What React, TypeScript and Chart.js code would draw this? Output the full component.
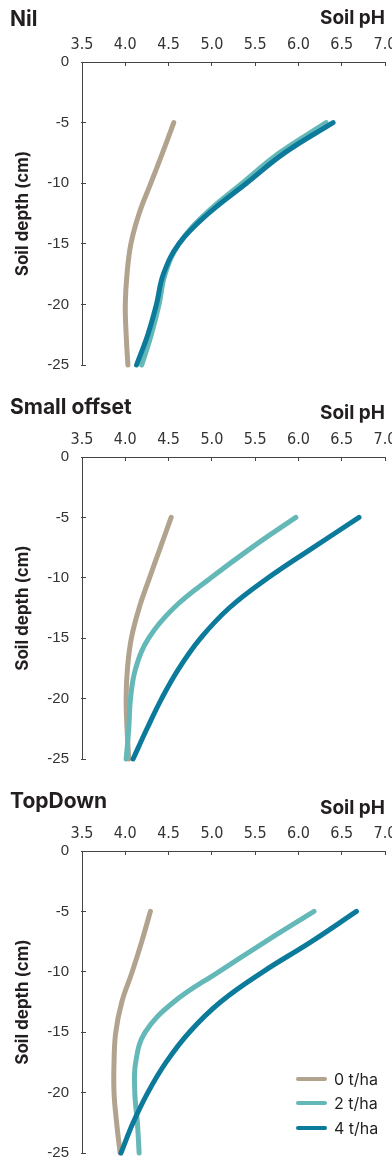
import React, { useEffect, useRef } from "react";
import { Chart, registerables } from "chart.js";

Chart.register(...registerables);

// ---------- data ----------
const depths = [-5, -7.5, -10, -12.5, -15, -17.5, -20, -22.5, -25];
const seriesLabels = ["0 t/ha", "2 t/ha", "4 t/ha"];
const panelTitles = ["Nil", "Small offset", "TopDown"];
const xTickValues = [3.5, 4.0, 4.5, 5.0, 5.5, 6.0, 6.5, 7.0];
const yTickValues = [0, -5, -10, -15, -20, -25];

const nil0 = [4.56, 4.43, 4.295, 4.16, 4.065, 4.02, 4.0, 4.01, 4.03];
const nil2 = [6.32, 5.78, 5.35, 4.93, 4.62, 4.46, 4.39, 4.3, 4.19];
const nil4 = [6.4, 5.84, 5.4, 4.96, 4.62, 4.44, 4.36, 4.26, 4.13];

const small0 = [4.53, 4.405, 4.28, 4.16, 4.07, 4.025, 4.01, 4.02, 4.04];
const small2 = [5.97, 5.46, 4.99, 4.56, 4.27, 4.12, 4.06, 4.04, 4.01];
const small4 = [6.7, 6.17, 5.65, 5.2, 4.87, 4.62, 4.42, 4.25, 4.09];

const top0 = [4.29, 4.19, 4.08, 3.96, 3.89, 3.87, 3.87, 3.9, 3.94];
const top2 = [6.18, 5.62, 5.08, 4.56, 4.23, 4.12, 4.11, 4.14, 4.16];
const top4 = [6.67, 6.15, 5.59, 5.1, 4.74, 4.47, 4.26, 4.09, 3.95];

// ---------- styles ----------
const seriesColors = ["#b1a38d", "#64b9b8", "#0c7a9b"];
const axisColor = "#444444";
const textColor = "#231f20";
const boldFont = "Inter, 'Open Sans', sans-serif";

const panels = [
  { title: panelTitles[0], series: [nil0, nil2, nil4], height: 390, top: 62, bottom: 365, titleY: 20, xTitlePad: 7, legend: false },
  { title: panelTitles[1], series: [small0, small2, small4], height: 390, top: 67, bottom: 369, titleY: 18, xTitlePad: 12, legend: false },
  { title: panelTitles[2], series: [top0, top2, top4], height: 379, top: 71, bottom: 373, titleY: 22, xTitlePad: 17, legend: true },
];

const overlayPlugin = {
  id: "overlay",
  afterDraw(chart: any, _args: any, opts: any) {
    const { ctx, chartArea } = chart;
    const xs = chart.scales.x;
    const ys = chart.scales.y;
    ctx.save();
    // inward tick marks
    ctx.strokeStyle = axisColor;
    ctx.lineWidth = 1;
    ctx.beginPath();
    xTickValues.forEach((v) => {
      const px = Math.round(xs.getPixelForValue(v) - 0.5) + 0.5;
      ctx.moveTo(px, chartArea.top);
      ctx.lineTo(px, chartArea.top + 4);
    });
    yTickValues.forEach((v) => {
      const py = Math.round(ys.getPixelForValue(v) - 0.5) + 0.5;
      ctx.moveTo(chartArea.left - 1, py);
      ctx.lineTo(chartArea.left + 4, py);
    });
    ctx.stroke();
    // panel title
    ctx.fillStyle = textColor;
    ctx.font = `700 21px ${boldFont}`;
    ctx.textBaseline = "middle";
    ctx.textAlign = "left";
    ctx.fillText(opts.title, 10, opts.titleY);
    // legend
    if (opts.legend) {
      const rows = [-74, -50, -25];
      chart.data.datasets.forEach((ds: any, i: number) => {
        const y = chartArea.bottom + rows[i];
        ctx.strokeStyle = ds.borderColor;
        ctx.lineWidth = 4;
        ctx.lineCap = "round";
        ctx.beginPath();
        ctx.moveTo(chartArea.right - 87, y);
        ctx.lineTo(chartArea.right - 60, y);
        ctx.stroke();
        ctx.fillStyle = textColor;
        ctx.font = `400 16px ${boldFont}`;
        ctx.textBaseline = "middle";
        ctx.fillText(ds.label, chartArea.right - 51, y + 1);
      });
    }
    ctx.restore();
  },
};

function Panel({ cfg }: { cfg: any }) {
  const ref = useRef<HTMLCanvasElement>(null);
  useEffect(() => {
    if (!ref.current) return;
    const chart = new Chart(ref.current, {
      type: "line",
      data: {
        datasets: cfg.series.map((vals: number[], i: number) => ({
          label: seriesLabels[i],
          data: vals.map((v, j) => ({ x: v, y: depths[j] })),
          borderColor: seriesColors[i],
          backgroundColor: seriesColors[i],
          borderWidth: 5,
          borderCapStyle: "round",
          borderJoinStyle: "round",
          pointRadius: 0,
          pointHoverRadius: 0,
          tension: 0.4,
          fill: false,
          clip: false,
          order: 3 - i,
        })),
      },
      options: {
        indexAxis: "y",
        responsive: false,
        animation: false,
        events: [],
        layout: { padding: { left: 0, right: 7, top: 0, bottom: cfg.height - cfg.bottom } },
        plugins: {
          legend: { display: false },
          tooltip: { enabled: false },
          overlay: { title: cfg.title, titleY: cfg.titleY, legend: cfg.legend },
        } as any,
        scales: {
          x: {
            type: "linear",
            position: "top",
            min: 3.5,
            max: 7,
            afterBuildTicks: (s: any) => {
              s.ticks = xTickValues.map((value) => ({ value }));
            },
            afterFit: (s: any) => {
              s.height = cfg.top;
              s.paddingLeft = 0;
              s.paddingRight = 0;
            },
            grid: { display: false, drawTicks: false },
            border: { display: true, color: axisColor, width: 1 },
            ticks: {
              autoSkip: false,
              maxRotation: 0,
              padding: 8,
              color: "#333333",
              font: { family: "'Liberation Sans Narrow', 'Arial Narrow', 'DejaVu Sans Condensed', sans-serif", size: 16 },
              callback: (v: any) => Number(v).toFixed(1),
            },
            title: {
              display: true,
              text: "Soil pH",
              align: "end",
              color: textColor,
              font: { family: boldFont, size: 19, weight: "700" },
              padding: { top: cfg.xTitlePad, bottom: 0 },
            },
          },
          y: {
            type: "linear",
            position: "left",
            min: -25,
            max: 0,
            afterBuildTicks: (s: any) => {
              s.ticks = yTickValues.map((value) => ({ value }));
            },
            afterFit: (s: any) => {
              s.width = 82;
              s.paddingTop = 0;
              s.paddingBottom = 0;
            },
            grid: { display: false, drawTicks: false },
            border: { display: true, color: axisColor, width: 1 },
            ticks: {
              padding: 13,
              color: "#333333",
              font: { family: "'Liberation Sans', Arial, sans-serif", size: 15 },
              callback: (v: any) => String(v),
            },
            title: {
              display: true,
              text: "Soil depth (cm)",
              color: textColor,
              font: { family: boldFont, size: 17, weight: "700" },
              padding: { top: 13, bottom: 0 },
            },
          },
        },
      } as any,
      plugins: [overlayPlugin],
    });
    return () => chart.destroy();
  }, [cfg]);
  return (
    <div style={{ width: 392, height: cfg.height }}>
      <canvas ref={ref} width={392} height={cfg.height} style={{ display: "block" }} />
    </div>
  );
}

export default function App() {
  return (
    <div style={{ position: "absolute", left: 0, top: 0, width: 392, height: 1159, background: "#ffffff" }}>
      {panels.map((p, i) => (
        <Panel key={i} cfg={p} />
      ))}
    </div>
  );
}
